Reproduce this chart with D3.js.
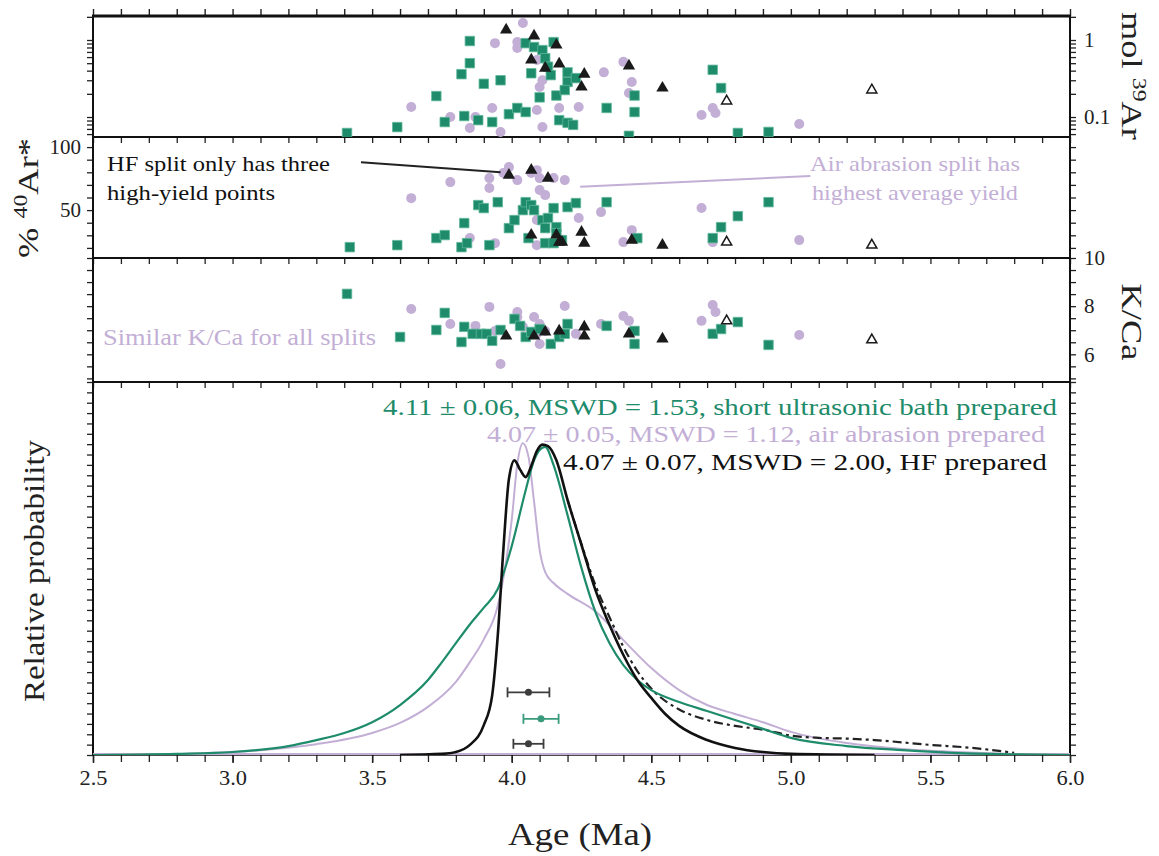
<!DOCTYPE html>
<html><head><meta charset="utf-8">
<script src="https://cdn.jsdelivr.net/npm/d3@7"></script>
<style>
body{margin:0;background:#fff}
svg text{font-family:"Liberation Serif","Times New Roman",serif;fill:#222}
</style>
</head><body>
<svg id="chart" width="1159" height="856"></svg>
<script>
// ---------- DATA ----------
// [age (Ma), value]
const molGreen = [[3.41,0.062],[3.59,0.074],[3.73,0.187],[3.76,0.086],[3.82,0.36],[3.83,0.103],[3.85,0.50],[3.85,0.97],[3.88,0.091],[3.90,0.27],[3.93,0.086],[3.96,0.30],[3.99,0.109],[4.02,0.131],[4.05,0.116],[4.05,0.91],[4.07,0.37],[4.08,0.81],[4.10,0.18],[4.11,0.74],[4.12,0.58],[4.13,0.45],[4.14,0.35],[4.15,0.94],[4.16,0.19],[4.17,0.091],[4.20,0.38],[4.20,0.285],[4.20,0.084],[4.22,0.079],[4.23,0.32],[4.19,0.224],[4.34,0.131],[4.44,0.19],[4.44,0.116],[4.42,0.057],[4.72,0.41],[4.75,0.238],[4.81,0.062],[4.92,0.064]];
const molAir = [[3.64,0.135],[3.78,0.10],[3.85,0.072],[3.87,0.10],[3.93,0.131],[3.94,0.91],[3.96,0.064],[4.02,0.79],[4.02,0.94],[4.04,1.66],[4.09,0.55],[4.09,0.123],[4.11,0.30],[4.10,0.245],[4.11,0.074],[4.17,0.131],[4.24,0.135],[4.33,0.38],[4.40,0.52],[4.43,0.285],[4.42,0.205],[4.68,0.106],[4.72,0.131],[4.73,0.113],[5.03,0.081]];
const molHF = [[3.98,1.35],[4.08,1.13],[4.16,0.86],[4.07,0.55],[4.12,0.43],[4.17,0.49],[4.25,0.245],[4.26,0.36],[4.42,0.46],[4.54,0.238]];
const molHFOpen = [[4.77,0.161],[5.29,0.224]];

const radGreen = [[3.42,20.6],[3.59,22.2],[3.73,27.8],[3.76,30.2],[3.83,39.7],[3.82,20.6],[3.84,23.8],[3.88,54.0],[3.90,51.6],[3.92,22.2],[3.95,56.3],[3.99,35.7],[4.01,42.1],[4.04,50.0],[4.05,56.3],[4.07,54.0],[4.08,50.0],[4.06,27.8],[4.11,42.1],[4.12,35.7],[4.13,43.7],[4.15,51.6],[4.16,36.5],[4.16,31.7],[4.18,26.2],[4.20,52.4],[4.23,55.6],[4.12,23.8],[4.15,23.8],[4.34,56.3],[4.45,27.8],[4.72,27.8],[4.75,36.5],[4.81,45.2],[4.92,56.3]];
const radAir = [[3.64,59.5],[3.78,72.2],[3.85,27.8],[3.92,67.5],[3.92,75.4],[3.94,23.8],[3.97,79.4],[3.99,84.1],[4.02,73.8],[4.07,79.4],[4.09,81.7],[4.10,75.4],[4.10,65.9],[4.09,42.1],[4.12,61.9],[4.15,75.4],[4.19,73.8],[4.24,43.7],[4.09,22.2],[4.32,48.4],[4.43,34.1],[4.40,24.6],[4.68,51.6],[4.72,24.6],[5.03,26.2]];
const radHF = [[3.99,77.8],[4.07,81.7],[4.13,75.4],[4.07,30.2],[4.16,30.2],[4.17,24.6],[4.18,24.6],[4.25,32.5],[4.26,23.8],[4.43,26.2],[4.54,22.2]];
const radHFOpen = [[4.77,24.6],[5.29,22.2]];

const kcaGreen = [[3.41,8.51],[3.60,6.72],[3.73,7.01],[3.76,7.72],[3.82,6.51],[3.83,7.14],[3.86,6.85],[3.89,6.85],[3.91,6.85],[3.93,6.56],[3.96,7.01],[4.01,7.47],[4.03,7.18],[4.05,6.72],[4.07,6.93],[4.10,7.05],[4.14,6.43],[4.17,6.72],[4.20,7.26],[4.19,6.85],[4.34,7.18],[4.44,6.97],[4.44,6.43],[4.72,6.85],[4.75,7.05],[4.81,7.34],[4.92,6.39]];
const kcaAir = [[3.64,7.88],[3.78,7.26],[3.87,7.18],[3.92,7.97],[3.94,6.97],[3.96,5.60],[4.02,7.76],[4.02,7.55],[4.04,7.14],[4.08,7.55],[4.10,7.26],[4.09,6.85],[4.10,6.43],[4.12,6.97],[4.19,8.01],[4.23,6.85],[4.32,7.26],[4.40,7.59],[4.42,7.39],[4.68,7.39],[4.72,8.05],[4.73,7.76],[5.03,6.80]];
const kcaHF = [[3.98,6.76],[4.08,6.76],[4.12,6.93],[4.17,6.97],[4.26,7.14],[4.26,6.76],[4.42,6.85],[4.54,6.64]];
const kcaHFOpen = [[4.77,7.39],[5.29,6.60]];

// relative probability curves [age, relative probability]
const probHF = [[3.60,0],[3.75,0.003],[3.80,0.008],[3.85,0.027],[3.90,0.08],[3.93,0.16],[3.95,0.32],[3.97,0.55],[3.99,0.74],[4.01,0.79],[4.03,0.765],[4.05,0.745],[4.07,0.775],[4.09,0.815],[4.11,0.832],[4.13,0.828],[4.16,0.79],[4.20,0.684],[4.25,0.563],[4.30,0.442],[4.35,0.349],[4.40,0.268],[4.45,0.201],[4.50,0.153],[4.55,0.110],[4.60,0.078],[4.70,0.040],[4.80,0.019],[4.90,0.008],[5.00,0.003],[5.30,0]];
const probHFAll = [[4.20,0.684],[4.25,0.565],[4.30,0.455],[4.35,0.37],[4.40,0.29],[4.45,0.225],[4.50,0.178],[4.60,0.122],[4.70,0.094],[4.80,0.078],[4.90,0.068],[5.00,0.052],[5.10,0.046],[5.20,0.044],[5.30,0.040],[5.50,0.027],[5.65,0.019],[5.80,0.006]];
const probGreen = [[2.5,0],[2.8,0.003],[3.0,0.008],[3.2,0.024],[3.3,0.040],[3.4,0.059],[3.5,0.088],[3.6,0.134],[3.7,0.201],[3.75,0.249],[3.8,0.300],[3.85,0.350],[3.9,0.395],[3.95,0.445],[4.0,0.56],[4.05,0.71],[4.08,0.79],[4.10,0.818],[4.12,0.826],[4.15,0.777],[4.20,0.643],[4.25,0.501],[4.30,0.383],[4.35,0.300],[4.40,0.241],[4.45,0.201],[4.50,0.174],[4.60,0.142],[4.70,0.118],[4.80,0.094],[4.90,0.070],[5.00,0.046],[5.20,0.024],[5.40,0.013],[5.60,0.005],[5.80,0.002],[6.0,0]];
const probAir = [[2.6,0],[2.9,0.005],[3.1,0.013],[3.3,0.029],[3.5,0.059],[3.6,0.086],[3.7,0.129],[3.8,0.196],[3.85,0.249],[3.9,0.31],[3.95,0.40],[3.98,0.52],[4.00,0.63],[4.02,0.78],[4.04,0.836],[4.06,0.80],[4.08,0.68],[4.10,0.55],[4.12,0.49],[4.15,0.461],[4.20,0.432],[4.30,0.385],[4.40,0.308],[4.50,0.233],[4.60,0.174],[4.70,0.134],[4.80,0.110],[4.90,0.088],[5.00,0.062],[5.20,0.032],[5.40,0.016],[5.60,0.008],[5.80,0.003],[6.0,0]];

// weighted mean ages: HF, ultrasonic, air abrasion
const meanAges = [4.06, 4.105, 4.06];
const meanErrs = [0.075, 0.063, 0.054];
const meanLevels = [0.168, 0.097, 0.03];

const xTickValues = d3.range(25, 61).map(d => d / 10);
const xLabelValues = [2.5, 3.0, 3.5, 4.0, 4.5, 5.0, 5.5, 6.0];
const molTicks = [0.06,0.07,0.08,0.09,0.1,0.2,0.3,0.4,0.5,0.6,0.7,0.8,0.9,1,2];
const molLabels = [0.1, 1];
const radTicks = d3.range(20, 101, 10);
const radLabels = [50, 100];
const kcaTicks = d3.range(10, 21).map(d => d / 2);
const kcaLabels = [6, 8, 10];
const probTicks = d3.range(0, 37).map(d => d / 36);

const annotations = [
  {text: "4.11 \u00b1 0.06, MSWD = 1.53, short ultrasonic bath prepared", key: "green"},
  {text: "4.07 \u00b1 0.05, MSWD = 1.12, air abrasion prepared", key: "air"},
  {text: "4.07 \u00b1 0.07, MSWD = 2.00, HF prepared", key: "hf"}
];

// ---------- STYLE ----------
const GREEN = "#1e8b6a", AIR = "#c3afd6", HF = "#1a1a1a";
const L = 93, R = 1070;
const P1 = [16, 137], P2 = [137, 258], P3 = [258, 382], P4 = [382, 755];

const svg = d3.select("#chart");
const x = d3.scaleLinear([2.5, 6], [L, R]);
const y1 = d3.scaleLog([0.055, 2.05], [P1[1], P1[0]]);
const y2 = d3.scaleLinear([12, 108], [P2[1], P2[0]]);
const y3 = d3.scaleLinear([4.85, 10], [P3[1], P3[0]]);
const y4 = d3.scaleLinear([0, 1], [P4[1], P4[0]]);

function styleAxis(g, w) {
  g.select(".domain").remove();
  g.selectAll(".tick line").attr("stroke", "#222").attr("stroke-width", w || 1.3);
  g.selectAll(".tick text").style("font-size", "21px").attr("fill", "#333");
}
function fit(sel, len) {
  return sel.attr("textLength", len).attr("lengthAdjust", "spacingAndGlyphs");
}

// x ticks on each panel boundary
svg.append("g").attr("transform", `translate(0,${P1[0]})`)
  .call(d3.axisTop(x).tickValues(xTickValues).tickSize(7).tickFormat(""))
  .call(g => styleAxis(g, 1.4));
[P1[1], P2[1], P3[1]].forEach(yy => {
  svg.append("g").attr("transform", `translate(0,${yy})`)
    .call(d3.axisBottom(x).tickValues(xTickValues).tickSize(6).tickFormat(""))
    .call(g => styleAxis(g, 1.3));
});
svg.append("g").attr("transform", `translate(0,${P4[1]})`)
  .call(d3.axisBottom(x).tickValues(xTickValues).tickSize(7).tickFormat(""))
  .call(g => styleAxis(g, 1.3));
svg.append("g").attr("transform", `translate(0,${P4[1]})`)
  .call(d3.axisBottom(x).tickValues(xLabelValues).tickSize(8).tickPadding(7).tickFormat(d3.format(".1f")))
  .call(g => styleAxis(g, 1.5))
  .call(g => g.selectAll(".tick text").each(function() { fit(d3.select(this), 28); }));

// y axes
function yAxes(scale, ticks, labels, leftLabels, fmt) {
  svg.append("g").attr("transform", `translate(${L},0)`)
    .call(d3.axisLeft(scale).tickValues(ticks).tickSize(6).tickPadding(6)
      .tickFormat(d => leftLabels && labels.includes(d) ? fmt(d) : ""))
    .call(g => styleAxis(g));
  svg.append("g").attr("transform", `translate(${R},0)`)
    .call(d3.axisRight(scale).tickValues(ticks).tickSize(6).tickPadding(8)
      .tickFormat(d => !leftLabels && labels.includes(d) ? fmt(d) : ""))
    .call(g => styleAxis(g));
}
yAxes(y1, molTicks, molLabels, false, d => d === 1 ? "1" : "0.1");
yAxes(y2, radTicks, radLabels, true, d => String(d));
yAxes(y3, kcaTicks, kcaLabels, false, d => String(d));
yAxes(y4, probTicks, [], false, d => "");

// frame
const frame = svg.append("g").attr("stroke", "#111").attr("fill", "none");
frame.append("line").attr("x1", L - 1).attr("x2", R + 1).attr("y1", P1[0]).attr("y2", P1[0]).attr("stroke-width", 3);
[P1[1], P2[1], P3[1]].forEach(yy => frame.append("line").attr("x1", L).attr("x2", R).attr("y1", yy).attr("y2", yy).attr("stroke-width", 2));
frame.append("line").attr("x1", L).attr("x2", R).attr("y1", P4[1]).attr("y2", P4[1]).attr("stroke-width", 1.5);
frame.append("line").attr("x1", L).attr("x2", L).attr("y1", P1[0]).attr("y2", P4[1]).attr("stroke-width", 2);
frame.append("line").attr("x1", R).attr("x2", R).attr("y1", P1[0]).attr("y2", P4[1]).attr("stroke-width", 2);
svg.append("line").attr("x1", L).attr("x2", R).attr("y1", y4(0) - 1).attr("y2", y4(0) - 1)
  .attr("stroke", AIR).attr("stroke-width", 2);

// ---------- SCATTER PANELS ----------
function clipRect(id, y0, y1p) {
  svg.append("clipPath").attr("id", id).append("rect")
    .attr("x", L).attr("y", y0).attr("width", R - L).attr("height", y1p - y0);
}
clipRect("c1", P1[0], P1[1]); clipRect("c2", P2[0], P2[1]); clipRect("c3", P3[0], P3[1]); clipRect("c4", P4[0], P4[1]);

const sq = d3.symbol(d3.symbolSquare, 90);
const tri = d3.symbol(d3.symbolTriangle, 66);
const triOpen = d3.symbol(d3.symbolTriangle, 44);

function scatter(clip, ys, air, green, hf, hfOpen) {
  const g = svg.append("g").attr("clip-path", `url(#${clip})`);
  g.selectAll(".a").data(air).join("circle").attr("cx", d => x(d[0])).attr("cy", d => ys(d[1]))
    .attr("r", 5).attr("fill", AIR);
  g.selectAll(".g").data(green).join("path").attr("d", sq)
    .attr("transform", d => `translate(${x(d[0])},${ys(d[1])})`)
    .attr("fill", GREEN).attr("stroke", "#5fb89a").attr("stroke-width", 0.8);
  g.selectAll(".h").data(hf).join("path").attr("d", tri)
    .attr("transform", d => `translate(${x(d[0])},${ys(d[1])})`)
    .attr("fill", HF);
  g.selectAll(".o").data(hfOpen).join("path").attr("d", triOpen)
    .attr("transform", d => `translate(${x(d[0])},${ys(d[1])})`)
    .attr("fill", "#fff").attr("stroke", HF).attr("stroke-width", 1.5);
}
scatter("c1", y1, molAir, molGreen, molHF, molHFOpen);
scatter("c2", y2, radAir, radGreen, radHF, radHFOpen);
scatter("c3", y3, kcaAir, kcaGreen, kcaHF, kcaHFOpen);

// panel 2 annotations
svg.append("line").attr("x1", x(3.46)).attr("y1", y2(88)).attr("x2", x(3.96)).attr("y2", y2(80))
  .attr("stroke", "#222").attr("stroke-width", 2);
svg.append("line").attr("x1", x(4.245)).attr("y1", y2(68.5)).attr("x2", x(5.07)).attr("y2", y2(77))
  .attr("stroke", AIR).attr("stroke-width", 2);
fit(svg.append("text").attr("x", 107).attr("y", 171).style("font-size", "21px").style("fill", "#111")
  .text("HF split only has three"), 223);
fit(svg.append("text").attr("x", 107).attr("y", 200).style("font-size", "21px").style("fill", "#111")
  .text("high-yield points"), 168);
fit(svg.append("text").attr("x", 810).attr("y", 171).style("font-size", "21px").style("fill", AIR)
  .text("Air abrasion split has"), 210);
fit(svg.append("text").attr("x", 812).attr("y", 200).style("font-size", "21px").style("fill", AIR)
  .text("highest average yield"), 206);
fit(svg.append("text").attr("x", 103).attr("y", 345).style("font-size", "23px").style("fill", AIR)
  .text("Similar K/Ca for all splits"), 273);

// ---------- PROBABILITY PANEL ----------
const line = d3.line().x(d => x(d[0])).y(d => y4(d[1])).curve(d3.curveMonotoneX);
const pg = svg.append("g").attr("clip-path", "url(#c4)").attr("fill", "none");
pg.append("path").datum(probAir).attr("d", line).attr("stroke", AIR).attr("stroke-width", 2);
pg.append("path").datum(probHFAll).attr("d", line).attr("stroke", "#222").attr("stroke-width", 2.2)
  .attr("stroke-dasharray", "9,4,3,4");
pg.append("path").datum(probGreen).attr("d", line).attr("stroke", GREEN).attr("stroke-width", 2.2);
pg.append("path").datum(probHF).attr("d", line).attr("stroke", "#111").attr("stroke-width", 2.6);

// error bars
const errColors = ["#3d3d3d", "#3a9a7c", "#3d3d3d"];
meanAges.forEach((a, i) => {
  const g = svg.append("g").attr("stroke", errColors[i]).attr("stroke-width", 1.8);
  const yy = y4(meanLevels[i]);
  g.append("line").attr("x1", x(a - meanErrs[i])).attr("x2", x(a + meanErrs[i])).attr("y1", yy).attr("y2", yy);
  [a - meanErrs[i], a + meanErrs[i]].forEach(e =>
    g.append("line").attr("x1", x(e)).attr("x2", x(e)).attr("y1", yy - 5).attr("y2", yy + 5));
  svg.append("circle").attr("cx", x(a)).attr("cy", yy).attr("r", 3.5).attr("fill", errColors[i]);
});

// weighted-mean annotations
const annColors = {green: GREEN, air: AIR, hf: "#111"};
const annX = [1057, 1045, 1047], annY = [415, 442, 470], annLen = [674, 558, 484];
annotations.forEach((a, i) => {
  fit(svg.append("text").attr("x", annX[i]).attr("y", annY[i]).attr("text-anchor", "end")
    .style("font-size", "24px").style("fill", annColors[a.key]).text(a.text), annLen[i]);
});

// ---------- AXIS TITLES ----------
const molT = svg.append("text").attr("transform", "translate(1122,76) rotate(90)")
  .attr("text-anchor", "middle").style("font-size", "29px");
molT.append("tspan").text("mol ");
molT.append("tspan").attr("dy", -11).style("font-size", "19px").text("39");
molT.append("tspan").attr("dy", 11).text("Ar");
fit(molT, 128);

fit(svg.append("text").attr("transform", "translate(1122,322) rotate(90)")
  .attr("text-anchor", "middle").style("font-size", "29px").text("K/Ca"), 77);

const arT = svg.append("text").attr("transform", "translate(38,198) rotate(-90)")
  .attr("text-anchor", "middle").style("font-size", "29px");
arT.append("tspan").text("% ");
arT.append("tspan").attr("dy", -11).style("font-size", "19px").text("40");
arT.append("tspan").attr("dy", 11).text("Ar*");
fit(arT, 120);

fit(svg.append("text").attr("transform", "translate(44,571) rotate(-90)")
  .attr("text-anchor", "middle").style("font-size", "30px").text("Relative probability"), 262);

fit(svg.append("text").attr("x", 580).attr("y", 845).attr("text-anchor", "middle")
  .style("font-size", "32px").text("Age (Ma)"), 144);
</script>
</body></html>
